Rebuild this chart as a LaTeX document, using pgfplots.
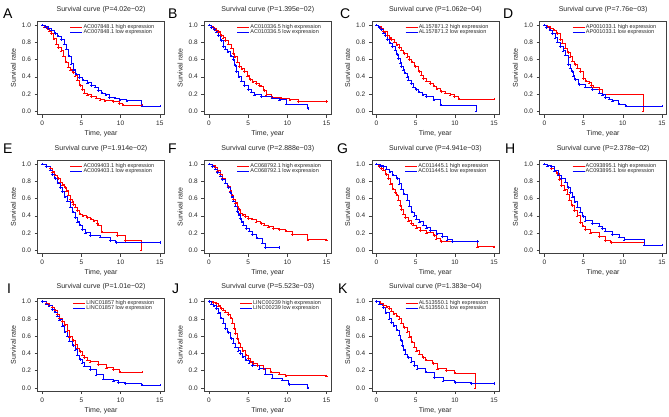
\documentclass[border=0pt]{standalone}
\usepackage{fontspec}
\setmainfont{Liberation Sans}
\usepackage{pgfplots}
\pgfplotsset{compat=1.18}
\newcommand{\fs}[1]{\fontsize{#1}{#1}\selectfont}
\definecolor{kmred}{RGB}{255,0,0}
\definecolor{kmblue}{RGB}{0,0,255}

\pgfplotsset{
  km/.style={
    scale only axis, width=127pt, height=93pt, anchor=north west,
    xmin=-0.6, xmax=15.6, ymin=-0.04, ymax=1.04,
    xtick={0,5,10,15}, ytick={0,0.2,0.4,0.6,0.8,1},
    yticklabel style={/pgf/number format/fixed, /pgf/number format/fixed zerofill, /pgf/number format/precision=1},
    /pgf/number format/assume math mode=true,
    tick align=outside, tick pos=left, major tick length=3pt,
    axis line style={black!75, line width=0.4pt},
    every tick/.style={black!75, line width=0.4pt},
    tick label style={font=\fs{6.5}, text=black!85},
    xlabel={Time, year}, ylabel={Survival rate},
    label style={font=\fs{7}, text=black!85},
    xlabel style={at={(0.5,-0.205)}, anchor=center},
    ylabel style={at={(-0.19,0.5)}, anchor=center},
    title style={font=\fs{7}, text=black!85, at={(0.5,1)}, anchor=base, yshift=4pt},
    legend style={at={(1,1)}, anchor=north east, xshift=-9.5pt, yshift=-2pt,
      draw=none, fill=none, inner sep=0pt, row sep=-1.8pt,
      font=\fs{5.5}, nodes={inner sep=0.6pt, text=black!85}},
    legend cell align=left,
    legend image code/.code={\draw[#1, mark=none] (0pt,0pt) -- (12pt,0pt);},
  },
  hi/.style={draw=kmred, line width=0.95pt, const plot, mark=+, mark size=1.2pt, mark options={draw=kmred, line width=0.4pt}},
  lo/.style={draw=kmblue, line width=0.95pt, const plot, mark=+, mark size=1.2pt, mark options={draw=kmblue, line width=0.4pt}},
}

\begin{document}
\begin{tikzpicture}
\useasboundingbox (0,0) rectangle (669pt,-416pt);

% ---------- row 1 ----------
\begin{axis}[km, at={(37.5pt,-21.6pt)}, title={Survival curve (P=4.02e−02)}]
\addplot[hi] coordinates {(0,1)(0.3,0.98)(0.6,0.96)(0.9,0.93)(1.2,0.9)(1.5,0.84)(1.8,0.78)(2.1,0.74)(2.4,0.7)(2.7,0.64)(3.0,0.57)(3.3,0.51)(3.6,0.48)(3.9,0.45)(4.2,0.41)(4.5,0.36)(4.8,0.3)(5.1,0.25)(5.4,0.21)(5.8,0.19)(6.3,0.17)(6.9,0.15)(7.4,0.13)(8.0,0.12)(9.0,0.11)(9.8,0.09)(10.3,0.07)(12.7,0.07)};
\addplot[lo] coordinates {(0,1)(0.4,0.98)(0.8,0.96)(1.2,0.94)(1.6,0.9)(2.0,0.87)(2.4,0.83)(2.8,0.78)(3.1,0.72)(3.4,0.64)(3.7,0.55)(4.0,0.48)(4.3,0.43)(4.7,0.39)(5.2,0.36)(5.8,0.33)(6.3,0.3)(6.8,0.28)(7.2,0.24)(7.6,0.21)(8.1,0.19)(8.6,0.16)(9.3,0.15)(9.9,0.13)(10.8,0.12)(12.7,0.06)(15,0.06)};
\legend{AC007848.1 high expression, AC007848.1 low expression}
\end{axis}

\begin{axis}[km, at={(204.3pt,-21.6pt)}, title={Survival curve (P=1.395e−02)}]
\addplot[hi] coordinates {(0,1)(0.3,0.98)(0.6,0.96)(0.9,0.94)(1.2,0.92)(1.5,0.88)(1.8,0.85)(2.1,0.82)(2.5,0.78)(2.85,0.73)(3.1,0.67)(3.3,0.63)(3.6,0.57)(3.9,0.52)(4.2,0.49)(4.55,0.46)(4.9,0.41)(5.2,0.37)(5.6,0.34)(6.0,0.32)(6.4,0.3)(6.7,0.29)(7.0,0.24)(7.3,0.19)(8.0,0.16)(9.2,0.15)(10.3,0.13)(11.4,0.11)(15,0.11)};
\addplot[lo] coordinates {(0,1)(0.3,0.97)(0.6,0.95)(0.9,0.92)(1.2,0.88)(1.5,0.82)(1.8,0.75)(2.1,0.72)(2.4,0.69)(2.8,0.64)(3.1,0.6)(3.3,0.53)(3.5,0.46)(3.8,0.4)(4.1,0.35)(4.5,0.3)(5.0,0.25)(5.4,0.22)(5.8,0.19)(6.7,0.17)(8.0,0.15)(9.0,0.13)(9.9,0.08)(12.6,0.03)};
\legend{AC010336.5 high expression, AC010336.5 low expression}
\end{axis}

\begin{axis}[km, at={(371.8pt,-21.6pt)}, title={Survival curve (P=1.062e−04)}]
\addplot[hi] coordinates {(0,1)(0.3,0.98)(0.6,0.96)(0.9,0.93)(1.1,0.92)(1.4,0.88)(1.7,0.85)(1.9,0.83)(2.3,0.8)(2.6,0.77)(2.9,0.74)(3.2,0.71)(3.5,0.67)(3.9,0.63)(4.2,0.6)(4.5,0.57)(4.9,0.52)(5.4,0.46)(5.7,0.42)(6.0,0.38)(6.4,0.35)(6.9,0.32)(7.3,0.29)(7.7,0.26)(8.2,0.23)(8.8,0.21)(9.4,0.19)(9.9,0.17)(10.5,0.14)(15,0.14)};
\addplot[lo] coordinates {(0,1)(0.3,0.97)(0.6,0.95)(0.9,0.91)(1.1,0.88)(1.4,0.83)(1.7,0.79)(2.0,0.75)(2.4,0.71)(2.6,0.66)(2.8,0.61)(3.0,0.56)(3.2,0.52)(3.4,0.48)(3.6,0.44)(3.9,0.4)(4.1,0.36)(4.4,0.32)(4.7,0.28)(5.0,0.25)(5.4,0.22)(5.9,0.19)(6.4,0.17)(7.3,0.13)(8.2,0.07)(12.7,0.0)};
\legend{AL157871.2 high expression, AL157871.2 low expression}
\end{axis}

\begin{axis}[km, at={(539.6pt,-21.6pt)}, title={Survival curve (P=7.76e−03)}]
\addplot[hi] coordinates {(0,1)(0.4,0.98)(0.8,0.96)(1.2,0.94)(1.6,0.9)(2.0,0.83)(2.3,0.79)(2.7,0.73)(3.0,0.68)(3.3,0.63)(3.6,0.58)(3.9,0.54)(4.2,0.5)(4.6,0.46)(5.0,0.38)(5.3,0.35)(5.7,0.33)(6.0,0.3)(6.3,0.28)(7.0,0.25)(7.4,0.19)(12.6,0.0)};
\addplot[lo] coordinates {(0,1)(0.3,0.97)(0.7,0.94)(1.0,0.9)(1.4,0.85)(1.7,0.8)(2.0,0.75)(2.4,0.7)(2.7,0.65)(3.1,0.54)(3.3,0.5)(3.5,0.46)(3.7,0.41)(3.9,0.37)(4.4,0.31)(5.2,0.28)(6.1,0.25)(7.0,0.21)(7.4,0.19)(7.8,0.16)(8.3,0.14)(8.7,0.12)(9.5,0.08)(10.4,0.06)(15,0.06)};
\legend{AP001033.1 high expression, AP001033.1 low expression}
\end{axis}

% ---------- row 2 ----------
\begin{axis}[km, at={(37.5pt,-160.6pt)}, title={Survival curve (P=1.914e−02)}]
\addplot[hi] coordinates {(0,1)(0.5,0.97)(1.0,0.95)(1.3,0.91)(1.6,0.87)(2.0,0.83)(2.3,0.79)(2.6,0.76)(2.9,0.73)(3.1,0.69)(3.3,0.64)(3.6,0.59)(3.8,0.56)(4.0,0.53)(4.2,0.5)(4.5,0.46)(4.8,0.42)(5.2,0.4)(5.7,0.38)(6.2,0.36)(6.6,0.34)(7.0,0.31)(7.2,0.29)(7.6,0.21)(9.6,0.17)(10.6,0.11)(12.6,0.0)};
\addplot[lo] coordinates {(0,1)(0.5,0.97)(1.0,0.93)(1.3,0.88)(1.6,0.83)(2.0,0.78)(2.3,0.73)(2.6,0.68)(2.9,0.62)(3.2,0.57)(3.6,0.5)(3.9,0.44)(4.2,0.38)(4.5,0.33)(4.8,0.29)(5.1,0.24)(5.5,0.2)(6.1,0.17)(7.4,0.15)(8.7,0.11)(9.4,0.09)(15,0.09)};
\legend{AC009403.1 high expression, AC009403.1 low expression}
\end{axis}

\begin{axis}[km, at={(204.3pt,-160.6pt)}, title={Survival curve (P=2.888e−03)}]
\addplot[hi] coordinates {(0,1)(0.4,0.98)(0.8,0.96)(1.1,0.92)(1.4,0.88)(1.7,0.83)(2.1,0.78)(2.4,0.74)(2.7,0.69)(2.9,0.64)(3.1,0.59)(3.4,0.55)(3.6,0.51)(3.8,0.47)(4.0,0.43)(4.3,0.41)(4.6,0.39)(5.0,0.37)(5.5,0.36)(6.0,0.33)(6.6,0.31)(7.1,0.29)(7.6,0.27)(8.2,0.25)(8.9,0.24)(9.8,0.22)(10.6,0.18)(12.6,0.12)(15,0.12)};
\addplot[lo] coordinates {(0,1)(0.4,0.97)(0.8,0.94)(1.1,0.9)(1.4,0.86)(1.7,0.82)(2.1,0.78)(2.4,0.73)(2.7,0.67)(2.9,0.62)(3.1,0.57)(3.4,0.51)(3.6,0.45)(3.8,0.41)(4.0,0.37)(4.2,0.33)(4.4,0.29)(4.8,0.25)(5.1,0.22)(5.5,0.18)(6.1,0.14)(6.8,0.08)(7.2,0.03)(8.9,0.03)};
\legend{AC068792.1 high expression, AC068792.1 low expression}
\end{axis}

\begin{axis}[km, at={(371.8pt,-160.6pt)}, title={Survival curve (P=4.941e−03)}]
\addplot[hi] coordinates {(0,1)(0.3,0.97)(0.6,0.95)(0.9,0.93)(1.2,0.88)(1.5,0.83)(1.8,0.77)(2.1,0.71)(2.4,0.67)(2.6,0.64)(2.8,0.58)(3.0,0.52)(3.2,0.47)(3.4,0.42)(3.7,0.38)(4.1,0.34)(4.4,0.31)(4.7,0.29)(5.1,0.26)(5.6,0.23)(6.4,0.2)(7.3,0.17)(7.6,0.13)(8.2,0.1)(12.9,0.04)(15,0.04)};
\addplot[lo] coordinates {(0,1)(0.5,0.98)(0.9,0.97)(1.3,0.94)(1.7,0.91)(2.1,0.87)(2.6,0.83)(2.9,0.77)(3.2,0.71)(3.5,0.65)(3.9,0.58)(4.2,0.51)(4.5,0.44)(4.8,0.4)(5.1,0.36)(5.5,0.33)(6.0,0.29)(6.4,0.26)(6.9,0.23)(7.7,0.19)(8.4,0.16)(9.0,0.12)(9.7,0.1)(12.9,0.1)};
\legend{AC011445.1 high expression, AC011445.1 low expression}
\end{axis}

\begin{axis}[km, at={(539.6pt,-160.6pt)}, title={Survival curve (P=2.378e−02)}]
\addplot[hi] coordinates {(0,1)(0.4,0.98)(0.9,0.95)(1.3,0.92)(1.6,0.89)(1.9,0.82)(2.2,0.75)(2.6,0.7)(2.9,0.65)(3.2,0.58)(3.5,0.52)(3.8,0.46)(4.2,0.4)(4.6,0.32)(4.9,0.28)(5.2,0.24)(5.9,0.2)(7.0,0.16)(7.8,0.11)(8.5,0.09)(12.8,0.06)};
\addplot[lo] coordinates {(0,1)(0.4,0.98)(0.9,0.97)(1.3,0.92)(1.8,0.87)(2.2,0.83)(2.7,0.79)(3.0,0.73)(3.3,0.67)(3.6,0.62)(3.9,0.56)(4.2,0.5)(4.6,0.44)(4.9,0.39)(5.2,0.34)(6.1,0.31)(7.0,0.28)(7.4,0.25)(7.8,0.22)(8.7,0.18)(9.6,0.15)(10.2,0.12)(12.8,0.06)(15,0.06)};
\legend{AC093895.1 high expression, AC093895.1 low expression}
\end{axis}

% ---------- row 3 ----------
\begin{axis}[km, at={(37.5pt,-298.2pt)}, title={Survival curve (P=1.01e−02)}]
\addplot[hi] coordinates {(0,1)(0.5,0.98)(0.9,0.96)(1.3,0.93)(1.6,0.9)(1.9,0.85)(2.2,0.81)(2.6,0.77)(2.9,0.73)(3.2,0.66)(3.5,0.59)(3.9,0.55)(4.2,0.5)(4.5,0.46)(4.8,0.42)(5.1,0.38)(5.4,0.35)(5.8,0.32)(6.1,0.3)(7.2,0.27)(8.2,0.23)(9.1,0.21)(9.9,0.18)(12.7,0.18)};
\addplot[lo] coordinates {(0,1)(0.5,0.97)(0.9,0.95)(1.3,0.91)(1.6,0.88)(1.9,0.83)(2.2,0.79)(2.6,0.72)(2.9,0.65)(3.2,0.6)(3.5,0.54)(3.9,0.49)(4.2,0.44)(4.5,0.38)(4.8,0.33)(5.1,0.29)(5.4,0.25)(6.1,0.21)(6.9,0.15)(7.8,0.1)(9.1,0.08)(9.7,0.06)(10.6,0.05)(12.7,0.03)(15,0.03)};
\legend{LINC01857 high expression, LINC01857 low expression}
\end{axis}

\begin{axis}[km, at={(204.3pt,-298.2pt)}, title={Survival curve (P=5.523e−03)}]
\addplot[hi] coordinates {(0,1)(0.5,0.99)(0.9,0.98)(1.2,0.95)(1.5,0.92)(1.8,0.9)(2.1,0.88)(2.5,0.85)(2.8,0.81)(3.0,0.75)(3.2,0.69)(3.4,0.63)(3.6,0.57)(3.8,0.52)(4.0,0.47)(4.3,0.43)(4.7,0.38)(5.0,0.34)(5.3,0.3)(5.7,0.28)(6.2,0.26)(7.0,0.22)(7.9,0.18)(9.0,0.16)(9.8,0.14)(15,0.14)};
\addplot[lo] coordinates {(0,1)(0.3,0.97)(0.6,0.95)(0.9,0.92)(1.2,0.87)(1.5,0.81)(1.8,0.75)(2.1,0.69)(2.4,0.64)(2.8,0.57)(3.1,0.52)(3.4,0.47)(3.7,0.43)(4.0,0.4)(4.3,0.36)(4.7,0.32)(5.1,0.29)(5.5,0.26)(6.4,0.22)(7.2,0.16)(8.1,0.11)(9.4,0.09)(10.2,0.04)(12.6,0.0)};
\legend{LINC00239 high expression, LINC00239 low expression}
\end{axis}

\begin{axis}[km, at={(371.8pt,-298.2pt)}, title={Survival curve (P=1.383e−04)}]
\addplot[hi] coordinates {(0,1)(0.5,0.98)(0.9,0.96)(1.3,0.94)(1.6,0.92)(1.9,0.89)(2.2,0.86)(2.6,0.83)(2.9,0.8)(3.2,0.75)(3.5,0.7)(3.9,0.65)(4.2,0.59)(4.5,0.53)(4.8,0.47)(5.1,0.43)(5.5,0.39)(5.9,0.35)(6.3,0.32)(7.2,0.28)(7.8,0.22)(8.9,0.2)(10.0,0.17)(12.6,0.0)};
\addplot[lo] coordinates {(0,1)(0.4,0.97)(0.9,0.93)(1.2,0.87)(1.6,0.8)(1.9,0.76)(2.2,0.72)(2.6,0.67)(2.9,0.61)(3.1,0.55)(3.3,0.49)(3.5,0.44)(3.7,0.39)(4.0,0.35)(4.4,0.3)(4.8,0.26)(5.2,0.22)(6.3,0.18)(7.4,0.12)(8.5,0.08)(10.0,0.06)(12.1,0.05)(15,0.05)};
\legend{AL513550.1 high expression, AL513550.1 low expression}
\end{axis}

% panel letters
\begin{scope}[every node/.style={anchor=north west, inner sep=0pt, font=\fs{14}}]
\node at (3pt,-9pt) {A};
\node at (168pt,-9pt) {B};
\node at (340pt,-9pt) {C};
\node at (503pt,-9pt) {D};
\node at (3pt,-144pt) {E};
\node at (168pt,-144pt) {F};
\node at (337pt,-144pt) {G};
\node at (505pt,-144pt) {H};
\node at (7pt,-284pt) {I};
\node at (172pt,-284pt) {J};
\node at (338pt,-284pt) {K};
\end{scope}
\end{tikzpicture}
\end{document}
